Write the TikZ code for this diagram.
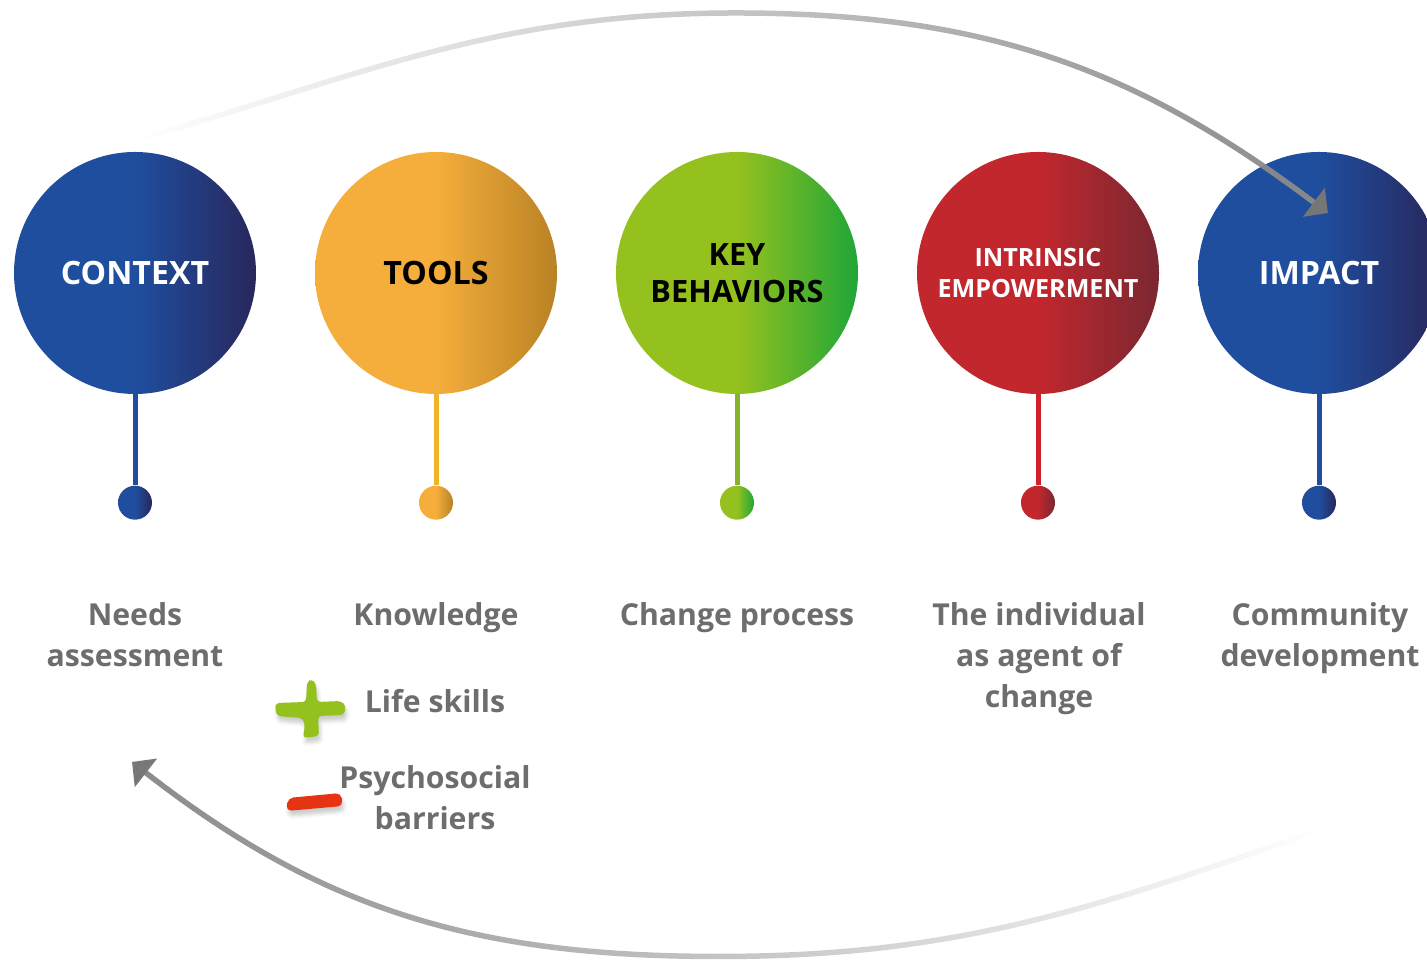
\documentclass[tikz,border=0pt]{standalone}
\usepackage{fontspec}
\setmainfont{Open Sans}
\usepackage{xcolor}
\definecolor{ctxblue}{HTML}{1F4E9E}
\definecolor{ctxnavy}{HTML}{28275C}
\definecolor{toolamber}{HTML}{F5AE3C}
\definecolor{toolbronze}{HTML}{B88224}
\definecolor{keylime}{HTML}{95C11F}
\definecolor{keygreen}{HTML}{1FA637}
\definecolor{intred}{HTML}{C1272D}
\definecolor{intwine}{HTML}{7A2731}
\definecolor{stalkamber}{HTML}{F0B428}
\definecolor{stalklime}{HTML}{86B32C}
\definecolor{stalkred}{HTML}{D0202A}
\definecolor{inkgray}{HTML}{6D6D6D}
\definecolor{arcgray}{HTML}{8A8A8A}
\definecolor{tipgray}{HTML}{777777}
\definecolor{minusred}{HTML}{E63312}
\usepackage{tikz}
\usetikzlibrary{positioning,arrows.meta,fadings,shadows.blur}

\tikzfading[name=fade in east, left color=transparent!100,
            middle color=transparent!35, right color=transparent!0]
\tikzfading[name=fade out east, left color=transparent!0,
            middle color=transparent!15, right color=transparent!100]

\tikzset{
  % flat on the left half, darkening towards the right edge
  tint/.style 2 args={left color=#1, right color=#2, middle color=#1},
  bubble/.style={circle, minimum size=4.84cm, inner sep=0pt, align=center,
                 font=\bfseries\fontsize{18.3}{22}\selectfont},
  knob/.style={circle, minimum size=0.68cm, inner sep=0pt},
  stalk/.style={line width=0.1cm},
  desc/.style={anchor=north, align=center, inner sep=0pt, text=inkgray,
               font=\bfseries\fontsize{17.2}{23.25}\selectfont},
  loop arc/.style={arcgray, line width=0.11cm,
                   -{Triangle[angle=90:0.5cm, color=tipgray]}},
}

\begin{document}
\begin{tikzpicture}
    \path[use as bounding box, clip] (0,0) rectangle (28.54,19.2);
    % stages
    \node[bubble, tint={ctxblue}{ctxnavy}, text=white] (context) at (2.7,13.74) {CONTEXT};
    \node[bubble, tint={toolamber}{toolbronze}] (tools) at (8.72,13.74) {TOOLS};
    \node[bubble, tint={keylime}{keygreen}, font=\bfseries\fontsize{17.5}{21}\selectfont]
      (behaviors) at (14.74,13.74) {KEY\\BEHAVIORS};
    \node[bubble, tint={intred}{intwine}, text=white, font=\bfseries\fontsize{14.3}{18.1}\selectfont]
      (empowerment) at (20.76,13.74) {INTRINSIC\\EMPOWERMENT};
    \node[bubble, tint={ctxblue}{ctxnavy}, text=white] (impact) at (26.38,13.74) {IMPACT};
    % pins
    \foreach \n/\base/\dark/\tone in {context/ctxblue/ctxnavy/ctxblue,
        tools/toolamber/toolbronze/stalkamber, behaviors/keylime/keygreen/stalklime,
        empowerment/intred/intwine/stalkred, impact/ctxblue/ctxnavy/ctxblue} {
      \node[knob, tint={\base}{\dark}, below=1.82cm of \n] (\n-knob) {};
      \draw[stalk, \tone] (\n) -- (\n-knob);
    }
    % captions
    \node[desc] (needs) at (2.7,7.16) {Needs\\assessment};
    \node[desc] (knowledge) at (8.72,7.16) {Knowledge};
    \node[desc] (process) at (14.74,7.16) {Change process};
    \node[desc] (agent) at (20.78,7.16) {The individual\\as agent of\\change};
    \node[desc] (community) at (26.4,7.16) {Community\\development};
    \node[desc] (lifeskills) at (8.7,5.41) {Life skills};
    \node[desc] (barriers) at (8.7,3.89) {Psychosocial\\barriers};
    % plus and minus marks
    \fill[keylime, rounded corners=2pt,
          blur shadow={shadow xshift=1pt, shadow yshift=-3pt, shadow opacity=20}]
      (5.52,5.14) -- (6.12,5.16) -- (6.14,5.56) -- (6.24,5.62) -- (6.32,5.52)
      -- (6.34,5.16) -- (6.82,5.18) -- (6.92,5.08) -- (6.88,4.9) -- (6.36,4.88)
      -- (6.38,4.48) -- (6.06,4.44) -- (6.10,4.72) -- (6.04,4.84) -- (5.54,4.88)
      -- (5.5,5.04) -- cycle;
    \fill[minusred, rounded corners=3pt,
          blur shadow={shadow xshift=1pt, shadow yshift=-3pt, shadow opacity=20}]
      (5.76,3.24) -- (6.82,3.34) -- (6.86,3.08) -- (5.72,2.98) -- cycle;
    % feedback loop
    \coordinate (loop-a) at (2.74,16.4);
    \coordinate (loop-top) at (14.74,18.94);
    \coordinate (loop-b) at (26.4,2.6);
    \coordinate (loop-bottom) at (14.38,0.07);
    \draw[loop arc, path fading=fade in east]
      (loop-a) to[out=16, in=180] (loop-top) to[out=0, in=143] ($(impact)+(0.22,1.2)$);
    \draw[loop arc, path fading=fade out east]
      (loop-b) to[out=199, in=0] (loop-bottom) to[out=180, in=-38] ($(needs.north)+(-0.06,-3.2)$);
\end{tikzpicture}
\end{document}
